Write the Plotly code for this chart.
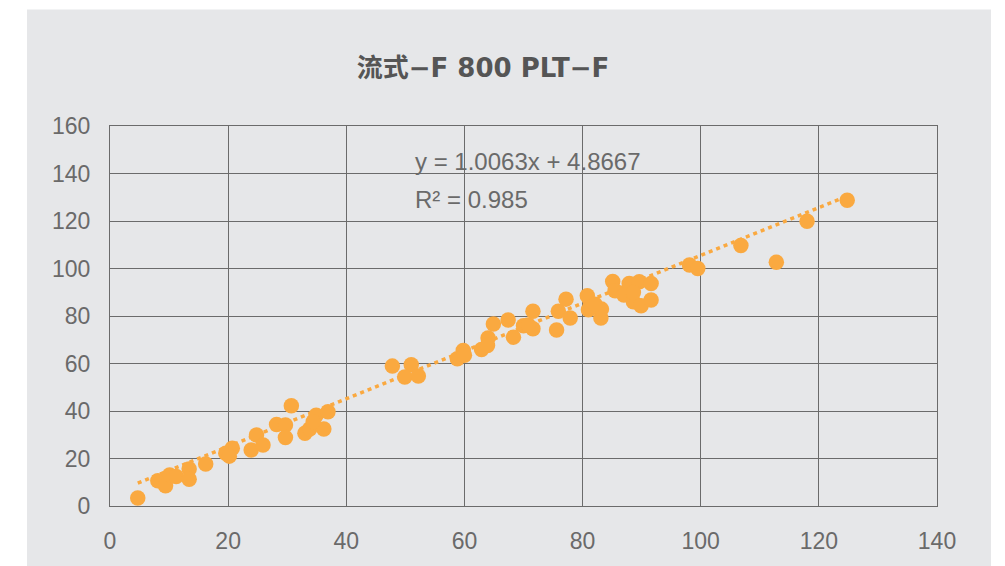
import plotly.graph_objects as go

# Paired measurements: reference method (x) vs. 800 PLT-F channel (y)
x_vals = [4.7, 8.1, 9.4, 10.1, 11.2, 13.4, 13.4, 16.2, 19.6, 20.7, 20.2, 23.9,
          24.8, 25.9, 28.2, 29.7, 29.7, 30.7, 33.0, 33.8, 34.9, 36.9, 36.2, 34.4,
          47.8, 51.0, 49.9, 52.2, 58.8, 59.8, 60.0, 62.9, 64.0, 63.9, 64.9, 67.4,
          68.3, 70.0, 71.6, 71.6, 70.8, 75.6, 75.9, 77.2, 77.9, 80.8, 81.0, 83.1,
          83.2, 82.1, 85.1, 85.5, 87.9, 89.6, 91.6, 87.0, 88.6, 89.9, 91.6, 88.6,
          98.1, 99.5, 106.8, 112.8, 118.0, 124.8]
y_vals = [3.4, 10.6, 8.5, 13.1, 12.4, 15.6, 11.3, 17.7, 22.2, 24.3, 21.0, 23.6,
          29.9, 25.7, 34.3, 34.1, 28.8, 42.2, 30.6, 32.4, 38.2, 39.7, 32.4, 35.5,
          58.9, 59.5, 54.3, 54.7, 62.0, 65.5, 63.5, 65.9, 70.7, 67.6, 76.6, 78.3,
          71.1, 75.9, 74.6, 82.0, 76.2, 74.1, 82.0, 87.1, 79.2, 88.5, 82.6, 79.2,
          82.9, 85.0, 94.5, 90.6, 93.7, 94.4, 93.7, 88.8, 86.0, 84.3, 86.7, 89.9,
          101.5, 100.0, 109.7, 102.6, 119.9, 128.7]

# Linear fit reported on the chart
slope = 1.0063
intercept = 4.8667
r_squared = 0.985

title_text = "流式−F 800 PLT−F"
x_ticks = [0, 20, 40, 60, 80, 100, 120, 140]
y_ticks = [0, 20, 40, 60, 80, 100, 120, 140, 160]

orange = "#FAA940"
grid = "#6B6B6B"
text_gray = "#6A6A6A"
panel = "#E6E7E9"

fit_x = [min(x_vals), max(x_vals)]
fit_y = [slope * v + intercept for v in fit_x]

fig = go.Figure()
fig.add_trace(go.Scatter(
    x=fit_x, y=fit_y, mode="lines",
    line=dict(color=orange, width=3.5, dash="4px,4px"),
    hoverinfo="skip", showlegend=False,
))
fig.add_trace(go.Scatter(
    x=x_vals, y=y_vals, mode="markers",
    marker=dict(color=orange, size=15.5, line=dict(width=0)),
    showlegend=False,
))

tick_font = dict(family="Liberation Sans, Arial, sans-serif", size=23, color=text_gray)

fig.update_xaxes(
    range=[0, 140], tickvals=x_ticks, ticktext=[str(v) for v in x_ticks],
    showgrid=True, gridcolor=grid, gridwidth=1,
    showline=True, linecolor=grid, linewidth=1, mirror=True,
    zeroline=False, ticks="", tickfont=tick_font, ticklabelstandoff=14,
)
fig.update_yaxes(
    range=[0, 160], tickvals=y_ticks, ticktext=[str(v) for v in y_ticks],
    showgrid=True, gridcolor=grid, gridwidth=1,
    showline=True, linecolor=grid, linewidth=1, mirror=True,
    zeroline=False, ticks="", tickfont=tick_font, ticklabelstandoff=14,
)

# Grey chart panel behind the plot area
l, r, t, b = 110, 68, 126, 58
W, H = 1005, 566
pw, ph = W - l - r, H - t - b
fig.add_shape(
    type="rect", xref="paper", yref="paper", layer="below",
    x0=(27 - l) / pw, x1=(991 - l) / pw,
    y0=(H - b - 570) / ph, y1=(H - b - 9) / ph,
    fillcolor=panel, line=dict(width=0),
)

eq_font = dict(family="Liberation Sans, Arial, sans-serif", size=24, color=text_gray)
fig.add_annotation(
    xref="paper", yref="paper",
    x=(413 - l) / pw, y=(H - b - 162) / ph,
    xanchor="left", yanchor="middle", showarrow=False,
    text=f"y = {slope:.4f}x + {intercept:.4f}", font=eq_font,
)
fig.add_annotation(
    xref="paper", yref="paper",
    x=(413 - l) / pw, y=(H - b - 200) / ph,
    xanchor="left", yanchor="middle", showarrow=False,
    text=f"R² = {r_squared:.3f}", font=eq_font,
)

fig.update_layout(
    width=W, height=H,
    margin=dict(l=l, r=r, t=t, b=b),
    paper_bgcolor="white", plot_bgcolor="rgba(0,0,0,0)",
    title=dict(
        text=f"<b>{title_text}</b>", x=483 / W, xanchor="center",
        y=1 - 68 / H, yanchor="middle",
        font=dict(family="DejaVu Sans, Noto Sans CJK SC, sans-serif", size=26, color="#555555"),
    ),
    showlegend=False,
)

fig.write_html("out.html")
